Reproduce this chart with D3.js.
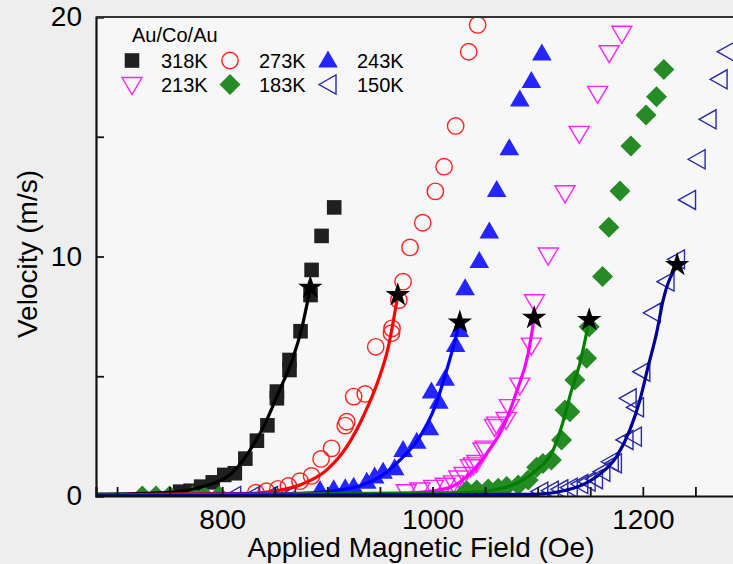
<!DOCTYPE html>
<html><head><meta charset="utf-8">
<script src="https://cdn.jsdelivr.net/npm/d3@7"></script>
<style>
html,body{margin:0;padding:0;background:#efefef;}
svg{display:block;font-family:"Liberation Sans",Arial,sans-serif;}
</style></head>
<body>
<script>
// ---------- data (Applied field [Oe], velocity [m/s]) ----------
const seriesNames = ["318K","273K","243K","213K","183K","150K"];
const xTickLabels = [800, 1000, 1200];
const yTickLabels = [0, 10, 20];

const data318 = [[760,0.18],[770,0.22],[780,0.39],[791,0.57],[802,0.88],[812,0.95],[822,1.56],[833,2.31],[843,2.95],[852,4.08],[852,4.36],[864,5.26],[864,5.68],[874.5,6.88],[884,8.39],[885,9.44],[894.5,10.86],[906.5,12.05]];
const data273 = [[832,0.14],[842,0.2],[853,0.3],[863,0.42],[874,0.62],[885,0.84],[894,1.55],[904,1.99],[917,2.94],[918.5,3.1],[925,4.15],[936,4.26],[946,6.23],[961,6.8],[961.5,7.0],[968,8.18],[972,8.95],[978.6,10.38],[990.7,11.41],[1002.7,12.72],[1011,13.75],[1022,15.45],[1034.4,18.55],[1042.9,19.67]];
const data243 = [[893,0.25],[906,0.28],[917,0.32],[925,0.39],[937.5,0.6],[945,0.81],[953,1.01],[964,1.16],[972,1.92],[985,2.27],[997,2.83],[999,4.36],[1006,3.94],[1012,4.9],[1022,6.3],[1025.5,6.93],[1031,8.67],[1044.5,9.81],[1054,11.04],[1061,12.78],[1073,14.52],[1083,16.56],[1094,17.33],[1104,18.48]];
const data213 = [[975,0.18],[988,0.25],[1001,0.36],[1012,0.45],[1020,0.55],[1025,0.75],[1030,0.9],[1036,1.22],[1039,1.3],[1042,1.4],[1048,1.92],[1050,2.0],[1059,2.9],[1061,3.0],[1070,3.2],[1073,3.73],[1083,4.63],[1094,6.3],[1097,8.11],[1110,10.06],[1126,12.66],[1139.5,15.14],[1157,16.81],[1168,18.51],[1180,19.32]];
const data183 = [[724,0],[737,0],[750,0],[772,0],[783,0],[797,0],[1032.5,0.22],[1042,0.25],[1053,0.29],[1062.5,0.32],[1070.5,0.4],[1081.5,0.46],[1091,0.67],[1099,1.2],[1105,1.36],[1113,1.5],[1122.7,2.34],[1126,3.59],[1130.6,3.52],[1135.4,4.84],[1146.5,5.75],[1149,7.07],[1161.7,9.16],[1167.7,11.22],[1178.2,12.73],[1188.6,14.61],[1203,15.91],[1213,16.67],[1220,17.81]];
const data150 = [[810,0],[828,0],[845,0],[862,0],[1102,0.18],[1112,0.22],[1121,0.28],[1130,0.35],[1140,0.5],[1147,0.6],[1154,0.7],[1161,1.01],[1169,1.43],[1172,1.36],[1183,2.34],[1191,2.48],[1186,4.08],[1193,3.7],[1199,5.19],[1209,7.65],[1222,8.95],[1232,9.88],[1242.5,12.36],[1251.6,14.06],[1262,15.73],[1272.5,17.4],[1279.4,18.55]];

// fitted curves
const fit318 = [[680,0.08],[728,0.11],[759,0.18],[775,0.32],[794,0.57],[809,0.95],[821,1.56],[832,2.31],[840,2.95],[854,4.36],[865.6,5.57],[875,6.88],[883.8,8.7]];
const fit273 = [[680,0.05],[827,0.11],[846,0.18],[874,0.46],[899.5,1.09],[918.5,2.06],[934,3.31],[948.5,4.84],[958,6.23],[967,8.39]];
const fit243 = [[680,0.03],[874,0.11],[906,0.22],[928,0.39],[950,0.81],[969,1.5],[988,2.48],[1002.4,3.73],[1013.5,5.26],[1024.5,7.0],[1026,7.25]];
const fit213 = [[680,0.02],[972,0.11],[1013.5,0.32],[1032.5,0.81],[1051.5,1.78],[1067.3,2.89],[1080,4.36],[1091,5.96],[1096.7,7.44]];
const fit183 = [[680,0.02],[1032.5,0.14],[1057.8,0.25],[1080,0.53],[1099,1.09],[1114.8,1.92],[1122.7,2.89],[1132.3,4.43],[1140.1,5.54],[1149,7.35]];
const fit150 = [[680,0.01],[1095.8,0.07],[1133.8,0.32],[1156,0.81],[1175,1.64],[1187.7,2.76],[1197.2,4.0],[1205,5.4],[1213,6.79],[1219.3,8.18],[1232.6,9.65]];

// ---------- styling ----------
const W = 733, H = 564;
const M = {left: 96, top: 17, bottom: 496, right: 748};
const styles = [
  {data: data318, fit: fit318, shape: "square",   fill: "#202020", stroke: "none",    line: "#000000"},
  {data: data273, fit: fit273, shape: "circle",   fill: "none",    stroke: "#ff2020", line: "#ff0000"},
  {data: data243, fit: fit243, shape: "triUp",    fill: "#2525ff", stroke: "none",    line: "#0000ff"},
  {data: data213, fit: fit213, shape: "triDown",  fill: "none",    stroke: "#ff22ff", line: "#ff00ff"},
  {data: data183, fit: fit183, shape: "diamond",  fill: "#268a26", stroke: "none",    line: "#008000"},
  {data: data150, fit: fit150, shape: "triLeft",  fill: "none",    stroke: "#2a2aa8", line: "#00009a"}
];
const shapePath = {
  square:  "M-7.3,-7.3H7.3V7.3H-7.3Z",
  circle:  "M8.2,0A8.2,8.2 0 1,1 -8.2,0A8.2,8.2 0 1,1 8.2,0Z",
  triUp:   "M0,-10L9.8,7L-9.8,7Z",
  triDown: "M-10,-7L10,-7L0,10Z",
  diamond: "M0,-10.5L10.5,0L0,10.5L-10.5,0Z",
  triLeft: "M-9,0L8,-9.5L8,9.5Z"
};

const svg = d3.select("body").append("svg").attr("width", W).attr("height", H);
svg.append("rect").attr("width", W).attr("height", H).attr("fill", "#eeeeee");
svg.append("rect").attr("x", M.left).attr("y", M.top).attr("width", M.right - M.left).attr("height", M.bottom - M.top).attr("fill", "#f7f7f7");

const x = d3.scaleLinear().domain([680, 1300]).range([M.left, M.right]);
const y = d3.scaleLinear().domain([0, 20]).range([M.bottom, M.top]);

svg.append("defs").append("clipPath").attr("id", "clip")
  .append("rect").attr("x", M.left).attr("y", M.top - 12).attr("width", M.right - M.left).attr("height", M.bottom - M.top + 12);

const plot = svg.append("g").attr("clip-path", "url(#clip)");

// markers
styles.forEach(s => {
  plot.append("g").selectAll("path").data(s.data).join("path")
    .attr("d", shapePath[s.shape])
    .attr("transform", d => `translate(${x(d[0])},${y(d[1])})`)
    .attr("fill", s.fill).attr("stroke", s.stroke).attr("stroke-width", 1.4);
});

// fit lines
const lineGen = d3.line().x(d => x(d[0])).y(d => y(d[1])).curve(d3.curveMonotoneX);
styles.forEach(s => {
  plot.append("path").datum(s.fit).attr("d", lineGen)
    .attr("fill", "none").attr("stroke", s.line).attr("stroke-width", 3.2);
});

// stars at fit ends
const star = d3.symbol().type(d3.symbolStar).size(185);
styles.forEach(s => {
  const e = s.fit[s.fit.length - 1];
  plot.append("path").attr("d", star())
    .attr("transform", `translate(${x(e[0])},${y(e[1])})`).attr("fill", "#000");
});

// axes
const yAxis = d3.axisLeft(y).tickValues([0,5,10,15,20]).tickSize(-8).tickPadding(14)
  .tickFormat(d => yTickLabels.includes(d) ? d : "");
const gy = svg.append("g").attr("transform", `translate(${M.left},0)`).call(yAxis);
const xTicks = d3.range(700, 1301, 50);
const xAxis = d3.axisBottom(x).tickValues(xTicks).tickSize(-9).tickPadding(13)
  .tickFormat(d => xTickLabels.includes(d) ? d : "");
const gx = svg.append("g").attr("transform", `translate(0,${M.bottom})`).call(xAxis);
[gx, gy].forEach(g => {
  g.select(".domain").attr("stroke", "#111").attr("stroke-width", 2.2);
  g.selectAll(".tick line").attr("stroke", "#111").attr("stroke-width", 1.8);
  g.selectAll(".tick text").attr("fill", "#000").attr("font-size", 28).attr("font-family", "'Liberation Sans',Arial,sans-serif");
});
// top frame
svg.append("line").attr("x1", M.left).attr("x2", M.right).attr("y1", M.top).attr("y2", M.top)
  .attr("stroke", "#333").attr("stroke-width", 2);

// titles
svg.append("text").attr("x", 421).attr("y", 557).attr("text-anchor", "middle")
  .attr("font-size", 28).attr("fill", "#000").text("Applied Magnetic Field (Oe)");
svg.append("text").attr("transform", "translate(37,254) rotate(-90)").attr("text-anchor", "middle")
  .attr("font-size", 28).attr("fill", "#000").text("Velocity (m/s)");

// legend
const lg = svg.append("g");
lg.append("text").attr("x", 132).attr("y", 42).attr("font-size", 20).attr("fill", "#000").text("Au/Co/Au");
const colX = [132, 230, 328], rowY = [60.5, 84.5];
styles.forEach((s, i) => {
  const cx = colX[i % 3], cy = rowY[Math.floor(i / 3)];
  lg.append("path").attr("d", shapePath[s.shape]).attr("transform", `translate(${cx},${cy})`)
    .attr("fill", s.fill).attr("stroke", s.stroke).attr("stroke-width", 1.4);
  lg.append("text").attr("x", cx + 29).attr("y", cy + 7).attr("font-size", 20).attr("fill", "#000").text(seriesNames[i]);
});
</script>
</body></html>
